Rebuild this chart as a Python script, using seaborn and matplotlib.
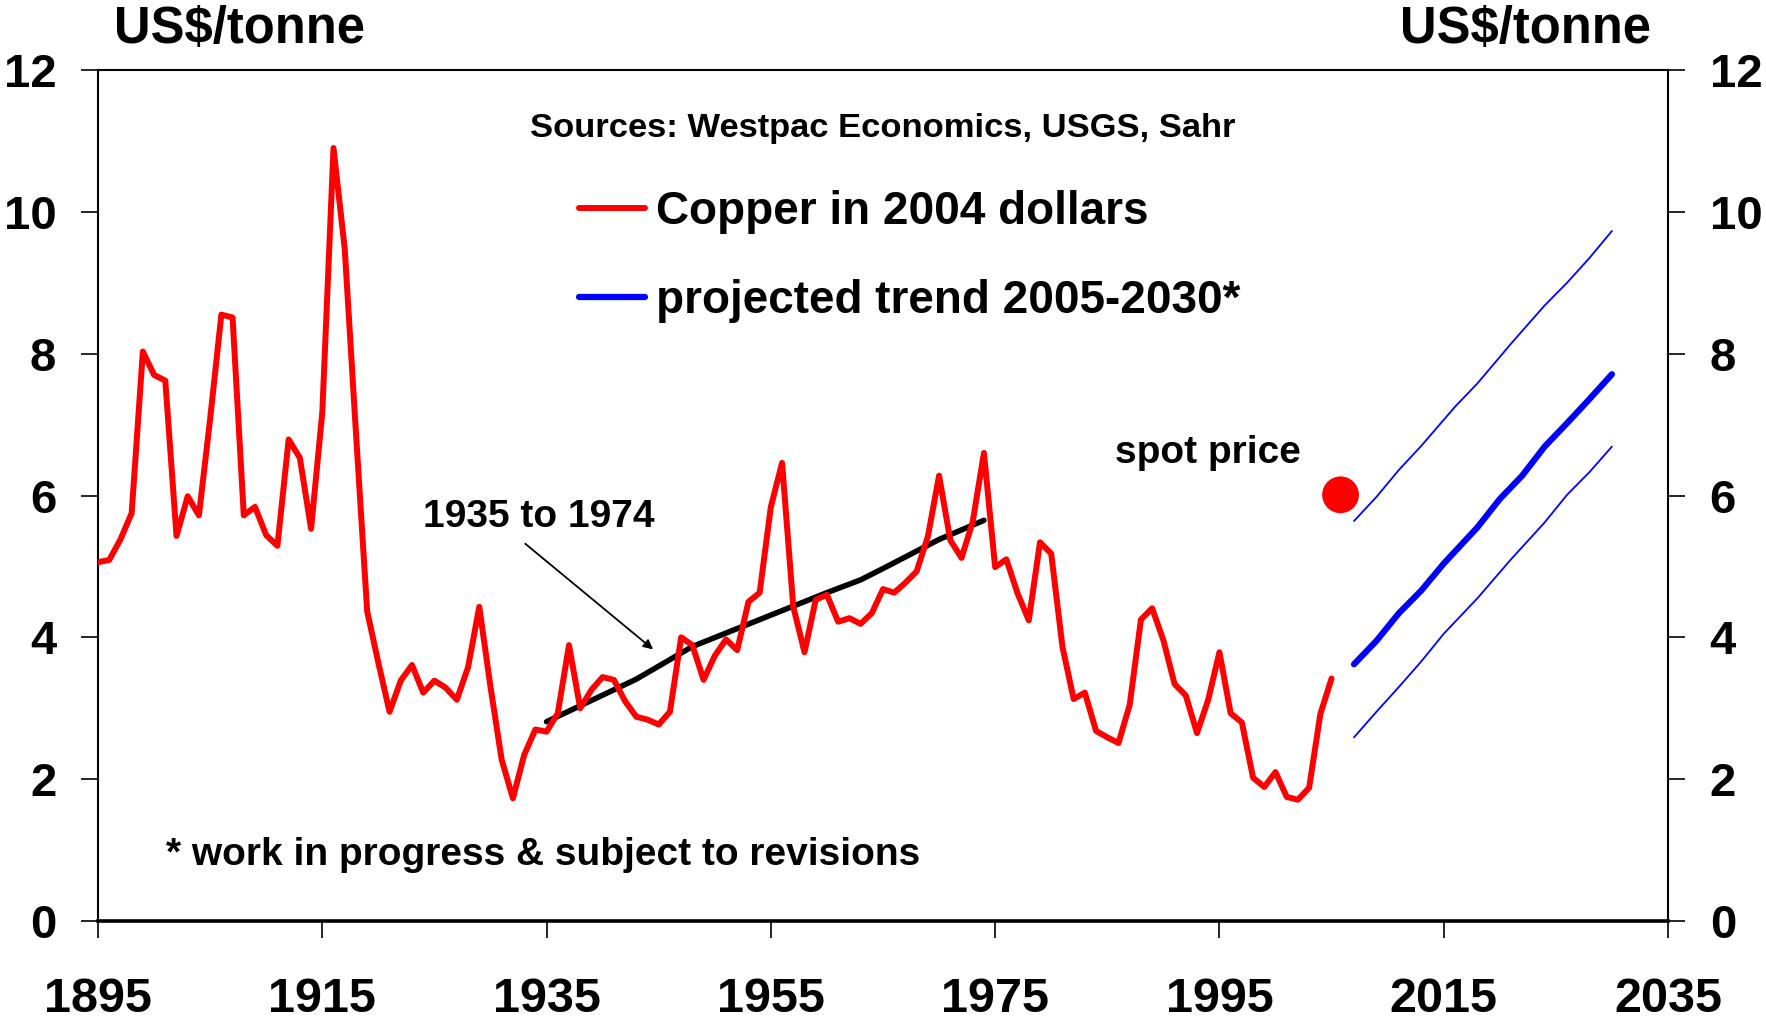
import numpy as np
import pandas as pd
import seaborn as sns
import matplotlib
matplotlib.use("Agg")
import matplotlib.pyplot as plt
from matplotlib.lines import Line2D

# ---------------- data ----------------
copper_years = list(range(1895, 2006))
copper_values = [
    5.06, 5.09, 5.38, 5.75, 8.03, 7.70, 7.62, 5.43, 5.99, 5.72,   # 1895-1904
    7.08, 8.55, 8.51, 5.72, 5.84, 5.44, 5.29, 6.79, 6.53, 5.53,   # 1905-1914
    7.17, 10.90, 9.48, 6.89, 4.37, 3.64, 2.95, 3.39, 3.61, 3.22,  # 1915-1924
    3.39, 3.29, 3.12, 3.58, 4.43, 3.30, 2.27, 1.73, 2.34, 2.70,   # 1925-1934
    2.67, 2.93, 3.89, 3.00, 3.26, 3.44, 3.40, 3.10, 2.88, 2.84,   # 1935-1944
    2.77, 2.95, 4.00, 3.89, 3.40, 3.74, 3.97, 3.82, 4.50, 4.63,   # 1945-1954
    5.84, 6.46, 4.43, 3.79, 4.53, 4.60, 4.22, 4.27, 4.19, 4.34,   # 1955-1964
    4.68, 4.63, 4.77, 4.93, 5.42, 6.28, 5.37, 5.12, 5.63, 6.60,   # 1965-1974
    4.99, 5.10, 4.62, 4.24, 5.34, 5.18, 3.87, 3.13, 3.22, 2.68,   # 1975-1984
    2.59, 2.51, 3.05, 4.25, 4.41, 3.96, 3.34, 3.18, 2.65, 3.12,   # 1985-1994
    3.79, 2.93, 2.80, 2.02, 1.89, 2.10, 1.75, 1.71, 1.88, 2.92,   # 1995-2004
    3.42,                                                         # 2005
]

trend_years = [1935, 1943, 1948, 1954, 1960, 1963, 1965, 1970, 1974]
trend_values = [2.81, 3.41, 3.87, 4.25, 4.63, 4.81, 4.97, 5.38, 5.65]

proj_years = [2007, 2009, 2011, 2013, 2015, 2018, 2020, 2022, 2024, 2026, 2028, 2030]
proj_values = [3.62, 3.95, 4.34, 4.66, 5.04, 5.55, 5.95, 6.28, 6.69, 7.02, 7.36, 7.71]

upper_years = [2007, 2009, 2011, 2013, 2016, 2018, 2021, 2024, 2026, 2028, 2030]
upper_values = [5.64, 5.98, 6.36, 6.70, 7.25, 7.58, 8.14, 8.68, 9.00, 9.35, 9.73]

lower_years = [2007, 2009, 2011, 2013, 2015, 2018, 2021, 2024, 2026, 2028, 2030]
lower_values = [2.59, 2.95, 3.30, 3.66, 4.05, 4.55, 5.10, 5.62, 6.01, 6.33, 6.69]

spot_year = [2005.8]
spot_value = [6.01]

x_ticks = [1895, 1915, 1935, 1955, 1975, 1995, 2015, 2035]
y_ticks = [0, 2, 4, 6, 8, 10, 12]

legend_labels = ["Copper in 2004 dollars", "projected trend 2005-2030*"]

# ---------------- style ----------------
sns.set_theme(style="white")
plt.rcParams["font.family"] = ["Liberation Sans", "DejaVu Sans"]
plt.rcParams["font.weight"] = "bold"
plt.rcParams["text.color"] = "black"

fig = plt.figure(figsize=(17.66, 10.22), dpi=100)
ax = fig.add_axes([98 / 1766, 1 - 921 / 1022, (1668 - 98) / 1766, (921 - 70) / 1022])

RED = "#FF0000"
BLUE = "#0000FF"

copper_df = pd.DataFrame({"year": copper_years, "value": copper_values})
trend_df = pd.DataFrame({"year": trend_years, "value": trend_values})
proj_df = pd.DataFrame({"year": proj_years, "value": proj_values})
upper_df = pd.DataFrame({"year": upper_years, "value": upper_values})
lower_df = pd.DataFrame({"year": lower_years, "value": lower_values})

sns.lineplot(data=trend_df, x="year", y="value", ax=ax, color="black", lw=4.0, zorder=3)
sns.lineplot(data=copper_df, x="year", y="value", ax=ax, color=RED, lw=4.3, zorder=4)
sns.lineplot(data=proj_df, x="year", y="value", ax=ax, color=BLUE, lw=4.5, zorder=4,
             solid_capstyle="round")
sns.lineplot(data=upper_df, x="year", y="value", ax=ax, color=BLUE, lw=1.3, zorder=4)
sns.lineplot(data=lower_df, x="year", y="value", ax=ax, color=BLUE, lw=1.3, zorder=4)
sns.scatterplot(x=spot_year, y=spot_value, ax=ax, color=RED, s=700, edgecolor="none", zorder=5)

ax.set_xlim(1895, 2035)
ax.set_ylim(0, 12)
ax.set_xticks(x_ticks)
ax.set_yticks(y_ticks)
ax.set_xticklabels([str(t) for t in x_ticks])
ax.set_yticklabels([str(t) for t in y_ticks])
ax.set_xlabel("")
ax.set_ylabel("")
ax.grid(False)

for side in ["left", "right", "top"]:
    ax.spines[side].set_visible(True)
    ax.spines[side].set_color("black")
    ax.spines[side].set_linewidth(1.5)
ax.spines["bottom"].set_color("black")
ax.spines["bottom"].set_linewidth(2.6)

ax.tick_params(axis="x", which="both", direction="out", length=12, width=1.2,
               color="black", bottom=True, top=False, labelsize=35, pad=28,
               labelcolor="black")
ax.tick_params(axis="y", which="both", direction="out", length=12, width=1.2,
               color="black", left=True, right=True, labelleft=True, labelright=True,
               labelsize=34, pad=18, labelcolor="black")
for lab in ax.get_xticklabels() + ax.get_yticklabels():
    lab.set_fontweight("bold")

# legend
handles = [Line2D([0], [0], color=RED, lw=4.3, solid_capstyle="round"),
           Line2D([0], [0], color=BLUE, lw=4.5, solid_capstyle="round")]
leg = ax.legend(handles, legend_labels, loc="upper left",
                bbox_to_anchor=(579 / 1766, 1 - 190 / 1022), bbox_transform=fig.transFigure,
                frameon=False, handlelength=1.43, handletextpad=0.25,
                labelspacing=0.98, borderpad=0, borderaxespad=0,
                prop={"weight": "bold", "size": 33})
for t in leg.get_texts():
    t.set_color("black")

# texts
fig.text(114 / 1766, 1 - 43 / 1022, "US$/tonne", fontsize=36.5, fontweight="bold",
         ha="left", va="baseline", color="black")
fig.text(1651 / 1766, 1 - 43 / 1022, "US$/tonne", fontsize=36.5, fontweight="bold",
         ha="right", va="baseline", color="black")
fig.text(530 / 1766, 1 - 137 / 1022, "Sources: Westpac Economics, USGS, Sahr",
         fontsize=24.8, fontweight="bold", ha="left", va="baseline", color="black")

ax.text(1924.0, 5.56, "1935 to 1974", fontsize=28, fontweight="bold",
        ha="left", va="baseline", color="black")
ax.text(1985.7, 6.46, "spot price", fontsize=28, fontweight="bold",
        ha="left", va="baseline", color="black")
ax.text(1901.1, 0.79, "* work in progress & subject to revisions", fontsize=28,
        fontweight="bold", ha="left", va="baseline", color="black")

ax.annotate("", xy=(1944.5, 3.83), xytext=(1933.1, 5.32),
            arrowprops=dict(arrowstyle="-|>", color="black", lw=1.3,
                            mutation_scale=14, shrinkA=0, shrinkB=0))

fig.savefig("out.png", dpi=100, facecolor="white")
